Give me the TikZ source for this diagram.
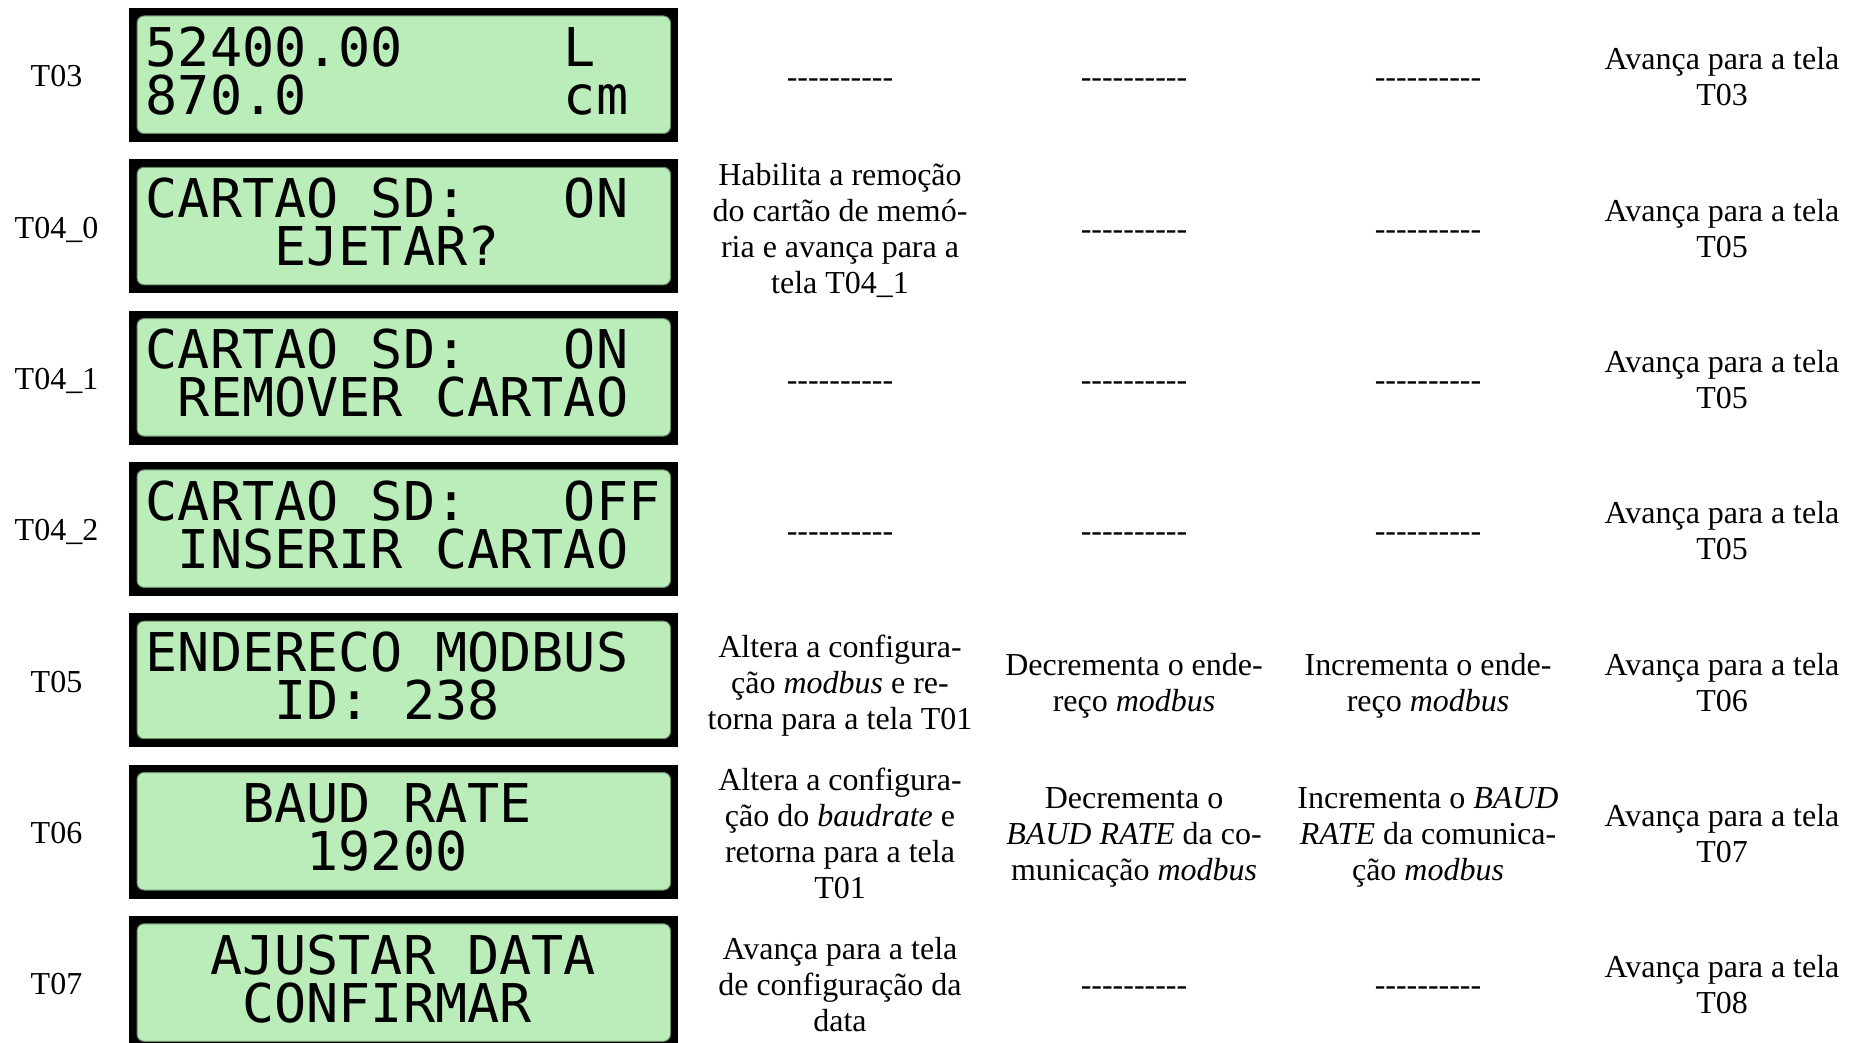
\documentclass[tikz,border=0pt]{standalone}
\usepackage{fontspec}
\setmainfont{Liberation Serif}
\newfontfamily\lcdfonte{DejaVu Sans Mono}
\usepackage{tikz}
\definecolor{verdelcd}{RGB}{186,237,185}
\definecolor{bordalcd}{RGB}{105,135,105}
\newcommand{\traco}{\mbox{-}}
\newcommand{\semacao}{\traco\traco\traco\traco\traco\traco\traco\traco\traco\traco}
% linha de altura fixa, para centrar como nas celulas da tabela
\newcommand{\topo}{\rule{0pt}{0.9em}}
\newcommand{\fundo}{\rule[-0.22em]{0pt}{0.22em}}

\begin{document}
\begin{tikzpicture}[node distance=1.513cm,
                    rotulo/.style={inner sep=0pt, font=\fontsize{9.1}{10.25}\selectfont, execute at begin node=\topo, execute at end node=\fundo},
                    acao/.style={inner sep=0pt, text width=2.8cm, align=flush center, font=\fontsize{9.1}{10.25}\selectfont, execute at begin node=\topo, execute at end node=\fundo},
                    lcd/.style={rectangle, fill=black, inner sep=0pt, minimum width=5.49cm, minimum height=1.34cm,
                      path picture={\filldraw[fill=verdelcd, draw=bordalcd, line width=0.01cm, rounded corners=0.07cm]
                        ([xshift=0.08cm,yshift=-0.08cm]path picture bounding box.north west) rectangle
                        ([xshift=-0.075cm,yshift=0.085cm]path picture bounding box.south east);}},
                    linha/.style={anchor=base west, inner sep=0pt, font=\lcdfonte\fontsize{15.2}{15.2}\selectfont}]
        \path[use as bounding box] (0,0) rectangle (18.6,-10.43);
        \clip (0,0) rectangle (18.6,-10.43);

        % T03
        \node (r3) [rotulo] at (0.565,-0.76) {T03};
        \node (lcd3) [lcd, right of=r3, xshift=1.957cm, yshift=0.01cm] {};
        \node (l3a) [linha] at ([xshift=0.168cm,yshift=-0.59cm]lcd3.north west) {52400.00~~~~~L};
        \node (l3b) [linha] at ([xshift=0.168cm,yshift=-1.07cm]lcd3.north west) {870.0~~~~~~~~cm};
        \node (a3) [acao, right of=lcd3, xshift=2.852cm, yshift=-0.02cm] {\semacao};
        \node (b3) [acao, right of=a3, xshift=1.427cm] {\semacao};
        \node (c3) [acao, right of=b3, xshift=1.427cm] {\semacao};
        \node (d3) [acao, right of=c3, xshift=1.427cm] {Avança para a tela\\T03};

        % T04_0
        \node (r40) [rotulo, below of=r3] {T04\_0};
        \node (lcd40) [lcd, below of=lcd3] {};
        \node (l40a) [linha] at ([xshift=0.168cm,yshift=-0.59cm]lcd40.north west) {CARTAO SD:~~~ON};
        \node (l40b) [linha] at ([xshift=0.168cm,yshift=-1.07cm]lcd40.north west) {~~~~EJETAR?};
        \node (a40) [acao, below of=a3] {Habilita a remoção\\do cartão de memó-\\ria e avança para a\\tela T04\_1};
        \node (b40) [acao, below of=b3] {\semacao};
        \node (c40) [acao, below of=c3] {\semacao};
        \node (d40) [acao, below of=d3] {Avança para a tela\\T05};

        % T04_1
        \node (r41) [rotulo, below of=r40] {T04\_1};
        \node (lcd41) [lcd, below of=lcd40] {};
        \node (l41a) [linha] at ([xshift=0.168cm,yshift=-0.59cm]lcd41.north west) {CARTAO SD:~~~ON};
        \node (l41b) [linha] at ([xshift=0.168cm,yshift=-1.07cm]lcd41.north west) {~REMOVER CARTAO};
        \node (a41) [acao, below of=a40] {\semacao};
        \node (b41) [acao, below of=b40] {\semacao};
        \node (c41) [acao, below of=c40] {\semacao};
        \node (d41) [acao, below of=d40] {Avança para a tela\\T05};

        % T04_2
        \node (r42) [rotulo, below of=r41] {T04\_2};
        \node (lcd42) [lcd, below of=lcd41] {};
        \node (l42a) [linha] at ([xshift=0.168cm,yshift=-0.59cm]lcd42.north west) {CARTAO SD:~~~OFF};
        \node (l42b) [linha] at ([xshift=0.168cm,yshift=-1.07cm]lcd42.north west) {~INSERIR CARTAO};
        \node (a42) [acao, below of=a41] {\semacao};
        \node (b42) [acao, below of=b41] {\semacao};
        \node (c42) [acao, below of=c41] {\semacao};
        \node (d42) [acao, below of=d41] {Avança para a tela\\T05};

        % T05
        \node (r5) [rotulo, below of=r42] {T05};
        \node (lcd5) [lcd, below of=lcd42] {};
        \node (l5a) [linha] at ([xshift=0.168cm,yshift=-0.59cm]lcd5.north west) {ENDERECO MODBUS};
        \node (l5b) [linha] at ([xshift=0.168cm,yshift=-1.07cm]lcd5.north west) {~~~~ID: 238};
        \node (a5) [acao, below of=a42] {Altera a configura-\\ção \textit{modbus} e re-\\torna para a tela T01};
        \node (b5) [acao, below of=b42] {Decrementa o ende-\\reço \textit{modbus}};
        \node (c5) [acao, below of=c42] {Incrementa o ende-\\reço \textit{modbus}};
        \node (d5) [acao, below of=d42] {Avança para a tela\\T06};

        % T06
        \node (r6) [rotulo, below of=r5] {T06};
        \node (lcd6) [lcd, below of=lcd5] {};
        \node (l6a) [linha] at ([xshift=0.168cm,yshift=-0.59cm]lcd6.north west) {~~~BAUD RATE};
        \node (l6b) [linha] at ([xshift=0.168cm,yshift=-1.07cm]lcd6.north west) {~~~~~19200};
        \node (a6) [acao, below of=a5] {Altera a configura-\\ção do \textit{baudrate} e\\retorna para a tela\\T01};
        \node (b6) [acao, below of=b5] {Decrementa o\\\textit{BAUD RATE} da co-\\municação \textit{modbus}};
        \node (c6) [acao, below of=c5] {Incrementa o \textit{BAUD}\\\textit{RATE} da comunica-\\ção \textit{modbus}};
        \node (d6) [acao, below of=d5] {Avança para a tela\\T07};

        % T07
        \node (r7) [rotulo, below of=r6] {T07};
        \node (lcd7) [lcd, below of=lcd6] {};
        \node (l7a) [linha] at ([xshift=0.168cm,yshift=-0.59cm]lcd7.north west) {~~AJUSTAR DATA};
        \node (l7b) [linha] at ([xshift=0.168cm,yshift=-1.07cm]lcd7.north west) {~~~CONFIRMAR};
        \node (a7) [acao, below of=a6] {Avança para a tela\\de configuração da\\data};
        \node (b7) [acao, below of=b6] {\semacao};
        \node (c7) [acao, below of=c6] {\semacao};
        \node (d7) [acao, below of=d6] {Avança para a tela\\T08};
\end{tikzpicture}
\end{document}
